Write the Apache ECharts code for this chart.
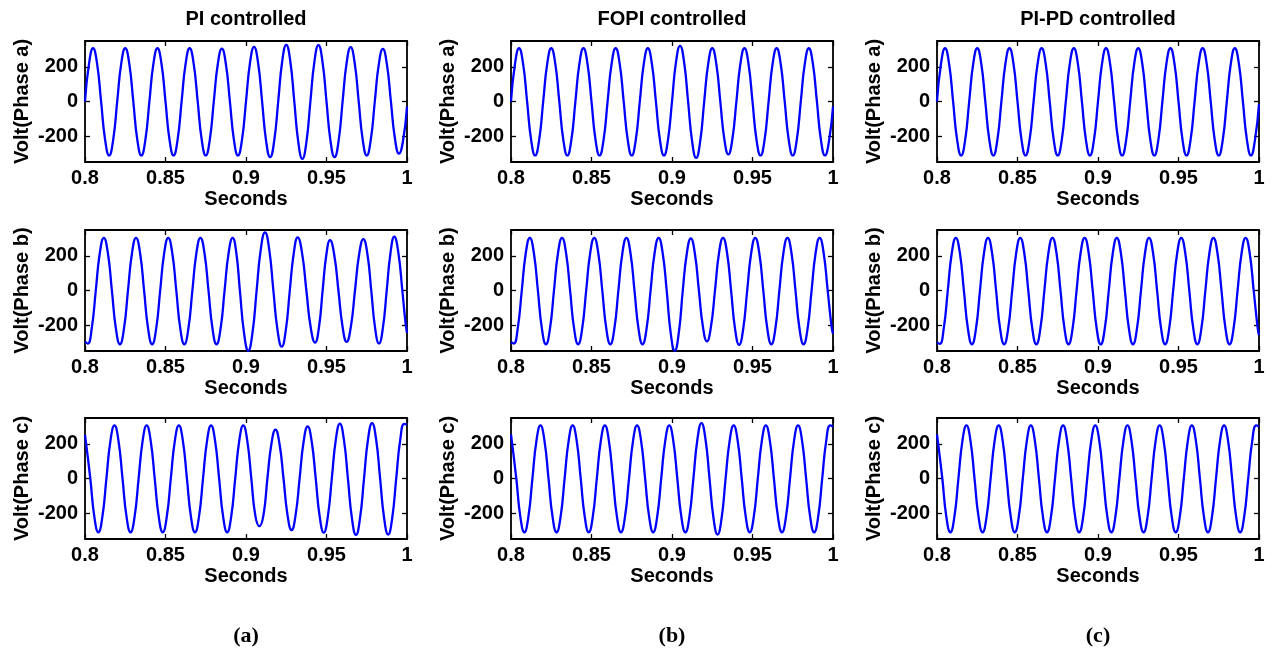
<!DOCTYPE html>
<html><head><meta charset="utf-8">
<script src="https://cdn.jsdelivr.net/npm/echarts@6/dist/echarts.min.js"></script>
<style>html,body{margin:0;padding:0;background:#fff}#c{width:1273px;height:653px}</style>
</head><body><div id="c"></div>
<script>
const colTitles = ['PI controlled', 'FOPI controlled', 'PI-PD controlled'];
const rowNames = ['Volt(Phase a)', 'Volt(Phase b)', 'Volt(Phase c)'];
const panelLabels = ['(a)', '(b)', '(c)'];
const xName = 'Seconds';
const xTicks = [0.8, 0.85, 0.9, 0.95, 1];
const yTicks = [-200, 0, 200];

// sample times (s) of the points (peaks, troughs, zero crossings and half-way points)
const tA = [0.8000,0.8025,0.8050,0.8075,0.8100,0.8125,0.8150,0.8175,0.8200,0.8225,0.8250,0.8275,0.8300,0.8325,0.8350,0.8375,0.8400,0.8425,0.8450,0.8475,0.8500,0.8525,0.8550,0.8575,0.8600,0.8625,0.8650,0.8675,0.8700,0.8725,0.8750,0.8775,0.8800,0.8825,0.8850,0.8875,0.8900,0.8925,0.8950,0.8975,0.9000,0.9025,0.9050,0.9075,0.9100,0.9125,0.9150,0.9175,0.9200,0.9225,0.9250,0.9275,0.9300,0.9325,0.9350,0.9375,0.9400,0.9425,0.9450,0.9475,0.9500,0.9525,0.9550,0.9575,0.9600,0.9625,0.9650,0.9675,0.9700,0.9725,0.9750,0.9775,0.9800,0.9825,0.9850,0.9875,0.9900,0.9925,0.9950,0.9975,1.0000];
const tB = [0.8000,0.8017,0.8042,0.8067,0.8092,0.8117,0.8142,0.8167,0.8192,0.8217,0.8242,0.8267,0.8292,0.8317,0.8342,0.8367,0.8392,0.8417,0.8442,0.8467,0.8492,0.8517,0.8542,0.8567,0.8592,0.8617,0.8642,0.8667,0.8692,0.8717,0.8742,0.8767,0.8792,0.8817,0.8842,0.8867,0.8892,0.8917,0.8942,0.8967,0.8992,0.9017,0.9042,0.9067,0.9092,0.9117,0.9142,0.9167,0.9192,0.9217,0.9242,0.9267,0.9292,0.9317,0.9342,0.9367,0.9392,0.9417,0.9442,0.9467,0.9492,0.9517,0.9542,0.9567,0.9592,0.9617,0.9642,0.9667,0.9692,0.9717,0.9742,0.9767,0.9792,0.9817,0.9842,0.9867,0.9892,0.9917,0.9942,0.9967,0.9992,1.0000];
const tB_PI = [0.8000,0.8017,0.8042,0.8067,0.8092,0.8117,0.8142,0.8167,0.8192,0.8217,0.8242,0.8267,0.8292,0.8317,0.8342,0.8367,0.8392,0.8417,0.8442,0.8467,0.8492,0.8517,0.8542,0.8567,0.8592,0.8617,0.8642,0.8667,0.8692,0.8717,0.8742,0.8767,0.8792,0.8817,0.8842,0.8867,0.8892,0.8917,0.8940,0.8962,0.8988,0.9014,0.9040,0.9066,0.9092,0.9118,0.9144,0.9170,0.9196,0.9222,0.9247,0.9272,0.9297,0.9321,0.9348,0.9375,0.9402,0.9429,0.9453,0.9476,0.9499,0.9522,0.9548,0.9574,0.9600,0.9625,0.9651,0.9677,0.9703,0.9729,0.9754,0.9778,0.9802,0.9826,0.9850,0.9874,0.9898,0.9921,0.9946,0.9971,0.9990,1.0000];
const tC = [0.8000,0.8033,0.8058,0.8083,0.8108,0.8133,0.8158,0.8183,0.8208,0.8233,0.8258,0.8283,0.8308,0.8333,0.8358,0.8383,0.8408,0.8433,0.8458,0.8483,0.8508,0.8533,0.8558,0.8583,0.8608,0.8633,0.8658,0.8683,0.8708,0.8733,0.8758,0.8783,0.8808,0.8833,0.8858,0.8883,0.8908,0.8933,0.8958,0.8983,0.9008,0.9033,0.9058,0.9083,0.9108,0.9133,0.9158,0.9183,0.9208,0.9233,0.9258,0.9283,0.9308,0.9333,0.9358,0.9383,0.9408,0.9433,0.9458,0.9483,0.9508,0.9533,0.9558,0.9583,0.9608,0.9633,0.9658,0.9683,0.9708,0.9733,0.9758,0.9783,0.9808,0.9833,0.9858,0.9883,0.9908,0.9933,0.9958,0.9983,1.0000];

// PI controlled (V)
const piA = [0,
  219,308,219,0,-222,-312,-222,0,
  219,308,219,0,-222,-312,-222,0,
  219,308,219,0,-222,-312,-222,0,
  219,308,219,0,-222,-312,-222,0,
  217,306,217,0,-222,-312,-222,0,
  224,316,224,0,-229,-322,-229,0,
  233,328,233,0,-236,-332,-236,0,
  231,326,231,0,-229,-322,-229,0,
  223,314,223,0,-222,-312,-222,0,
  216,304,216,0,-214,-302,-230,-30];
const piB = [-295,
  -307,-218,0,217, 305,217,0,-221,
  -311,-221,0,217, 305,217,0,-221,
  -311,-221,0,217, 305,217,0,-221,
  -311,-221,0,217, 305,217,0,-221,
  -311,-221,0,217, 305,217,0,-247,
  -348,-247,0,239, 336,239,0,-231,
  -325,-231,0,218, 307,218,0,-214,
  -301,-214,0,207, 291,207,0,-211,
  -297,-211,0,211, 297,211,0,-218,
  -307,-218,0,221, 311,221,0,-180,-245];
const piC = [252,
  0,-221,-311,-221, 0,218,307,218,
  0,-221,-311,-221, 0,218,307,218,
  0,-221,-311,-221, 0,218,307,218,
  0,-221,-311,-221, 0,218,307,218,
  0,-221,-311,-221, 0,218,307,218,
  0,-215,-276,-215, 0,201,283,201,
  0,-212,-298,-212, 0,214,302,214,
  0,-222,-313,-222, 0,225,317,225,
  0,-231,-326,-231, 0,227,320,227,
  0,-230,-324,-230, 0,224,316, 312];
// FOPI controlled (V)
const fopiA = [0,
  219,308,219,0,-222,-312,-222,0,
  219,308,219,0,-222,-312,-222,0,
  219,308,219,0,-222,-312,-222,0,
  219,308,219,0,-222,-312,-222,0,
  219,308,219,0,-222,-312,-222,0,
  229,322,229,0,-231,-326,-231,0,
  219,308,219,0,-217,-306,-217,0,
  219,308,219,0,-222,-312,-222,0,
  219,308,219,0,-222,-312,-222,0,
  219,308,219,0,-222,-312,-230,-30];
const fopiB = [-298,
  -307,-218,0,217, 305,217,0,-221,
  -311,-221,0,217, 305,217,0,-221,
  -311,-221,0,217, 305,217,0,-221,
  -311,-221,0,217, 305,217,0,-221,
  -311,-221,0,217, 305,217,0,-247,
  -348,-247,0,214, 301,214,0,-209,
  -294,-209,0,217, 305,217,0,-224,
  -315,-224,0,217, 305,217,0,-221,
  -311,-221,0,217, 305,217,0,-221,
  -311,-221,0,217, 305,217,0,-215,-250];
const fopiC = [255,
  0,-221,-311,-221, 0,218,307,218,
  0,-221,-311,-221, 0,218,307,218,
  0,-221,-311,-221, 0,218,307,218,
  0,-221,-311,-221, 0,218,307,218,
  0,-221,-311,-221, 0,218,307,218,
  0,-221,-311,-221, 0,227,320,227,
  0,-230,-324,-230, 0,218,307,218,
  0,-221,-311,-221, 0,218,307,218,
  0,-221,-311,-221, 0,218,307,218,
  0,-221,-311,-221, 0,218,307, 300];
// PI-PD controlled (V)
const pipdA = [0,
  219,308,219,0,-222,-312,-222,0,
  219,308,219,0,-222,-312,-222,0,
  219,308,219,0,-222,-312,-222,0,
  219,308,219,0,-222,-312,-222,0,
  219,308,219,0,-222,-312,-222,0,
  219,308,219,0,-222,-312,-222,0,
  219,308,219,0,-222,-312,-222,0,
  219,308,219,0,-222,-312,-222,0,
  219,308,219,0,-222,-312,-222,0,
  219,308,219,0,-222,-312,-222,-15];
const pipdB = [-300,
  -309,-219,0,217, 305,217,0,-221,
  -311,-221,0,217, 305,217,0,-221,
  -311,-221,0,217, 305,217,0,-221,
  -311,-221,0,217, 305,217,0,-221,
  -311,-221,0,217, 305,217,0,-221,
  -312,-221,0,217, 305,217,0,-221,
  -311,-221,0,217, 305,217,0,-221,
  -311,-221,0,217, 305,217,0,-221,
  -311,-221,0,217, 305,217,0,-221,
  -311,-221,0,217, 305,217,0,-218,-258];
const pipdC = [255,
  0,-221,-311,-221, 0,218,307,218,
  0,-221,-311,-221, 0,218,307,218,
  0,-221,-311,-221, 0,218,307,218,
  0,-221,-311,-221, 0,218,307,218,
  0,-221,-311,-221, 0,218,307,218,
  0,-221,-311,-221, 0,218,307,218,
  0,-221,-311,-221, 0,218,307,218,
  0,-221,-311,-221, 0,218,307,218,
  0,-221,-311,-221, 0,218,307,218,
  0,-221,-311,-221, 0,218,307, 300];

const panels = [
  [[tA, piA], [tA, fopiA], [tA, pipdA]],
  [[tB_PI, piB], [tB, fopiB], [tB, pipdB]],
  [[tC, piC], [tC, fopiC], [tC, pipdC]]
];

const FONT = "'Liberation Sans', Arial, Helvetica, sans-serif";
const gridLeft = [85, 511, 937];
const gridTop = [41, 230, 418];
const W = 322, H = 121;
const txt = {fontFamily: FONT, fontWeight: 'bold', fontSize: 20, color: '#000'};

const grid = [], xAxis = [], yAxis = [], series = [];
const problems = [];
for (let r = 0; r < 3; r++) {
  for (let c = 0; c < 3; c++) {
    const g = grid.length;
    grid.push({left: gridLeft[c], top: gridTop[r], width: W, height: H, show: true,
      borderColor: '#000', borderWidth: 1.8, backgroundColor: '#fff'});
    const tick = {show: true, inside: true, length: 5, customValues: xTicks, lineStyle: {color: '#000', width: 1.3}};
    const noLine = {show: false, onZero: false};
    xAxis.push({type: 'value', gridIndex: g, min: 0.8, max: 1, position: 'bottom',
      axisLine: noLine, splitLine: {show: false}, axisTick: tick,
      axisLabel: Object.assign({customValues: xTicks, margin: 6, formatter: v => String(v)}, txt),
      name: xName, nameLocation: 'middle', nameGap: 27, nameTextStyle: txt});
    xAxis.push({type: 'value', gridIndex: g, min: 0.8, max: 1, position: 'top',
      axisLine: noLine, splitLine: {show: false}, axisTick: tick, axisLabel: {show: false}});
    const ytick = {show: true, inside: true, length: 5, customValues: yTicks, lineStyle: {color: '#000', width: 1.3}};
    yAxis.push({type: 'value', gridIndex: g, min: -350, max: 350, position: 'left',
      axisLine: noLine, splitLine: {show: false}, axisTick: ytick,
      axisLabel: Object.assign({customValues: yTicks, margin: 7}, txt),
      name: rowNames[r], nameLocation: 'middle', nameGap: 53, nameTextStyle: txt});
    yAxis.push({type: 'value', gridIndex: g, min: -350, max: 350, position: 'right',
      axisLine: noLine, splitLine: {show: false}, axisTick: ytick, axisLabel: {show: false}});
    const [ts, vs] = panels[r][c];
    if (ts.length !== vs.length) problems.push(r + ',' + c + ': ' + ts.length + '/' + vs.length);
    series.push({type: 'line', xAxisIndex: 2 * g, yAxisIndex: 2 * g,
      data: ts.map((t, i) => [t, vs[i]]), smooth: true, symbol: 'none', clip: true,
      lineStyle: {color: '#0000ff', width: 2.3}, z: 3});
  }
}

const graphic = [];
for (let c = 0; c < 3; c++) {
  const cx = gridLeft[c] + W / 2;
  graphic.push({type: 'text', x: cx, y: 19.5, style: {text: colTitles[c], fill: '#000',
    font: "bold 20px " + FONT, textAlign: 'center', textVerticalAlign: 'middle'}});
  graphic.push({type: 'text', x: cx, y: 636, style: {text: panelLabels[c], fill: '#000',
    font: "bold 22px 'Liberation Serif', 'Times New Roman', serif", textAlign: 'center', textVerticalAlign: 'middle'}});
}
if (problems.length) graphic.push({type: 'text', x: 10, y: 600, style: {text: 'LEN ' + problems.join(' | '), fill: 'red', font: '12px sans-serif'}});

const chart = echarts.init(document.getElementById('c'), null, {renderer: 'canvas'});
chart.setOption({animation: false, backgroundColor: '#fff', grid, xAxis, yAxis, series, graphic});
</script>
</body></html>
